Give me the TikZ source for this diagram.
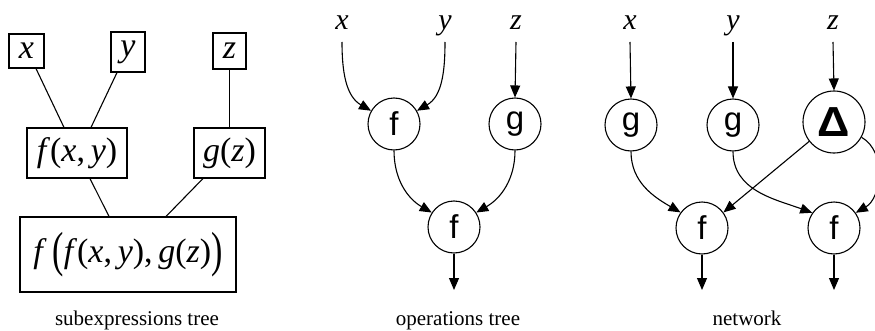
\documentclass[tikz,border=0pt]{standalone}
\usepackage{fontspec}
\usepackage{graphicx}
\setmainfont{Liberation Serif}
\newfontfamily\opfont{Liberation Sans}
\usetikzlibrary{arrows.meta}

% enlarged parentheses for the outer application
\newcommand\tallparen[1]{\raisebox{-0.115em}{\scalebox{1}[1.45]{#1}}}
\newcommand\var[1]{\textit{#1\/}}

\tikzset{
  lbl/.style={font=\fontsize{30}{30}\selectfont, inner sep=0, anchor=base},
  box/.style={draw, line width=1.1pt, inner sep=0, font=\fontsize{34}{34}\selectfont},
  op/.style={draw, circle, line width=1.1pt, minimum size=52pt, inner sep=0,
             font=\opfont\fontsize{33}{33}\selectfont},
  conn/.style={line width=1.1pt},
  arr/.style={line width=1.1pt, -{Triangle[length=12pt,width=10pt]}},
  caption/.style={font=\fontsize{21}{21}\selectfont, anchor=base, inner sep=0},
}

\begin{document}
\begin{tikzpicture}[x=1pt,y=1pt]
\useasboundingbox (0,0) rectangle (875,330);

% ---------- subexpressions tree ----------
\node[box, minimum width=35pt, minimum height=34pt] (bx) at (26.5,279) {\var{x}};
\node[box, minimum width=34pt, minimum height=40pt] (by) at (128,278) {\var{y}};
\node[box, minimum width=33pt, minimum height=36pt] (bz) at (229.5,279) {\var{z}};
\node[box, minimum width=100pt, minimum height=50pt] (fxy) at (77,177)
  {\var{f}(\var{x},\,\var{y})};
\node[box, minimum width=71pt, minimum height=50pt] (gz) at (229.5,177)
  {\var{g}(\var{z})};
\node[box, minimum width=216pt, minimum height=75pt] (big) at (128,75.5)
  {\var{f}\,\tallparen{(}\var{f}(\var{x},\,\var{y}),\,\var{g}(\var{z})\tallparen{)}};

\draw[conn] ([xshift=9.5pt]bx.south) -- ([xshift=-13pt]fxy.north);
\draw[conn] ([xshift=-11pt]by.south) -- ([xshift=14pt]fxy.north);
\draw[conn] (bz) -- (gz);
\draw[conn] ([xshift=13pt]fxy.south) -- ([xshift=-19pt]big.north);
\draw[conn] ([xshift=-26.5pt]gz.south) -- ([xshift=38pt]big.north);

\node[caption] (cap1) at (137,5) {subexpressions tree};

% ---------- operations tree ----------
\node[lbl] (mx) at (342,300) {\var{x}};
\node[lbl] (my) at (445,300) {\var{y}};
\node[lbl] (mz) at (516,300) {\var{z}};
\node[op] (mf1) at (394,206) {f};
\node[op] (mg)  at (515,206) {g};
\node[op] (mf2) at (454,103) {f};
\coordinate (mout) at (454,40);

\draw[arr] ([yshift=-12pt]mx.base) to[out=-90,in=150] (mf1.150);
\draw[arr] ([yshift=-12pt]my.base) to[out=-90,in=30] (mf1.30);
\draw[arr] ([yshift=-12pt]mz.base) -- (mg.north);
\draw[arr] (mf1.south) to[out=-90,in=150] (mf2.147);
\draw[arr] (mg.south) to[out=-90,in=30] (mf2.33);
\draw[arr] (mf2.south) -- (mout);

\node[caption] (cap2) at (458,5) {operations tree};

% ---------- network ----------
\node[lbl] (rx) at (630,300) {\var{x}};
\node[lbl] (ry) at (733,300) {\var{y}};
\node[lbl] (rz) at (833,300) {\var{z}};
\node[op] (rg1) at (631,205) {g};
\node[op] (rg2) at (733,205) {g};
\node[op, minimum size=62pt, font=\opfont\bfseries\fontsize{30}{30}\selectfont]
  (rd) at (834,208) {\scalebox{1.5}[1.4]{Δ}};
\node[op] (rf1) at (702,102) {f};
\node[op] (rf2) at (834,102) {f};
\coordinate (rout1) at (702,40);
\coordinate (rout2) at (834,40);

\draw[arr] ([yshift=-12pt]rx.base) -- (rg1.north);
\draw[arr] ([yshift=-12pt]ry.base) -- (rg2.north);
\draw[arr] ([yshift=-12pt]rz.base) -- (rd.north);
\draw[arr] (rg1.south) to[out=-90,in=150] (rf1.144);
\draw[arr] (rd.218) -- (rf1.36);
\draw[arr] (rg2.south) to[out=-90,in=160] (rf2.145);
\draw[arr] (rd.-29) to[out=-30,in=30] (rf2.35);
\draw[arr] (rf1.south) -- (rout1);
\draw[arr] (rf2.south) -- (rout2);

\node[caption] (cap3) at (747,5) {network};
\end{tikzpicture}
\end{document}
